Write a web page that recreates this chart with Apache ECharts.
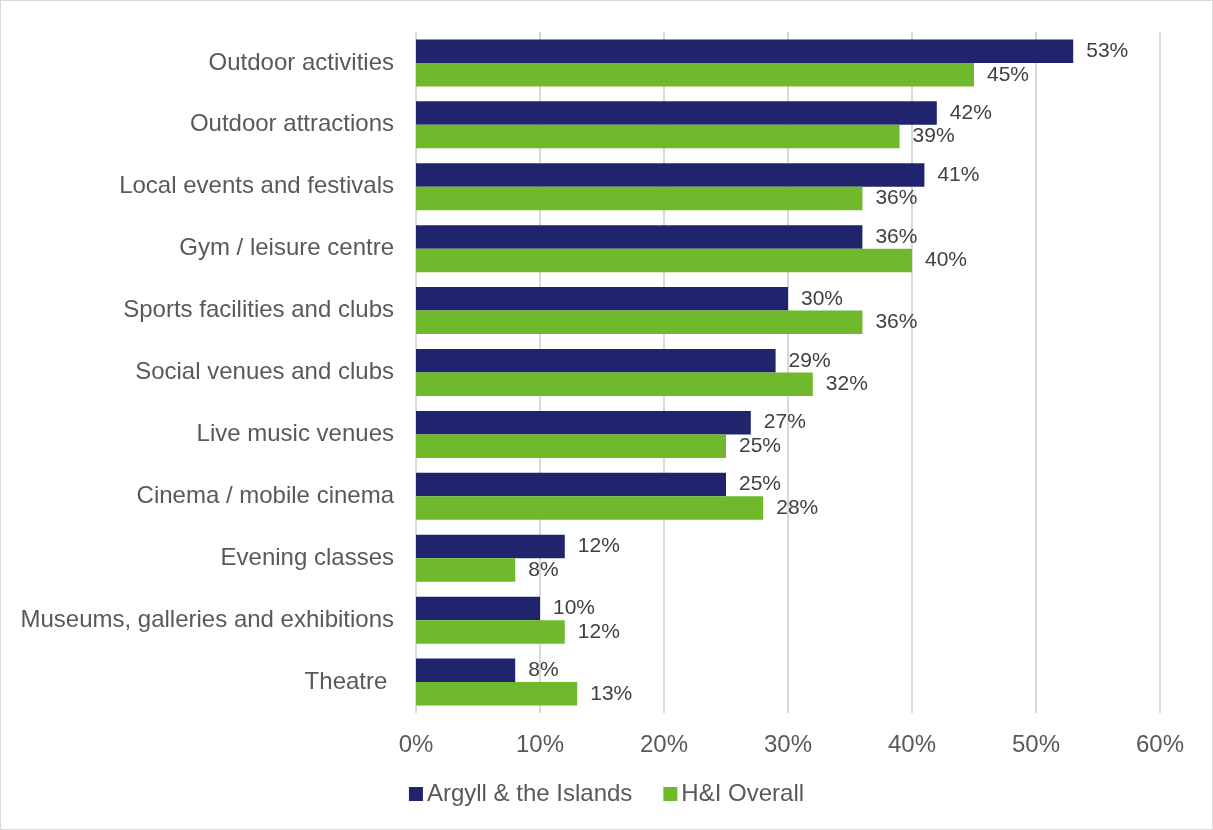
<!DOCTYPE html>
<html>
<head>
<meta charset="utf-8">
<script src="https://cdn.jsdelivr.net/npm/echarts@6/dist/echarts.min.js"></script>
<style>
  html, body { margin: 0; padding: 0; background: #fff; }
  #chart { width: 1211px; height: 828px; border: 1px solid #d9d9d9; }
</style>
</head>
<body>
<div id="chart"></div>
<script>
// Activities, top to bottom
const categories = [
  'Outdoor activities',
  'Outdoor attractions',
  'Local events and festivals',
  'Gym / leisure centre',
  'Sports facilities and clubs',
  'Social venues and clubs',
  'Live music venues',
  'Cinema / mobile cinema',
  'Evening classes',
  'Museums, galleries and exhibitions',
  'Theatre '
];
const argyllValues = [53, 42, 41, 36, 30, 29, 27, 25, 12, 10, 8];
const hiOverallValues = [45, 39, 36, 40, 36, 32, 25, 28, 8, 12, 13];
const seriesNames = ['Argyll & the Islands', 'H&I Overall'];
const xTicks = [0, 10, 20, 30, 40, 50, 60];

const FONT = '"Liberation Sans", Arial, sans-serif';
const AXIS_TEXT = '#595959';
const LABEL_TEXT = '#404040';

const chart = echarts.init(document.getElementById('chart'), null, { renderer: 'canvas' });

const labelStyle = {
  show: true,
  position: 'right',
  distance: 13,
  formatter: p => p.value + '%',
  color: LABEL_TEXT,
  fontFamily: FONT,
  fontSize: 21
};

chart.setOption({
  animation: false,
  textStyle: { fontFamily: FONT },
  grid: { left: 415, right: 52, top: 31, bottom: 116, containLabel: false },
  legend: {
    top: 776,
    left: 'center',
    itemWidth: 14,
    itemHeight: 14,
    itemGap: 31,
    icon: 'rect',
    textStyle: { color: AXIS_TEXT, fontSize: 24, fontFamily: FONT, padding: [0, 0, 0, -1] },
    data: seriesNames
  },
  xAxis: {
    type: 'value',
    min: xTicks[0],
    max: xTicks[xTicks.length - 1],
    interval: 10,
    axisLine: { show: false },
    axisTick: { show: false },
    axisLabel: {
      formatter: v => v + '%',
      color: AXIS_TEXT,
      fontSize: 24,
      fontFamily: FONT,
      margin: 20
    },
    splitLine: { show: true, lineStyle: { color: '#d9d9d9', width: 2 } }
  },
  yAxis: {
    type: 'category',
    inverse: true,
    data: categories,
    axisLine: { show: false },
    axisTick: { show: false },
    axisLabel: {
      color: AXIS_TEXT,
      fontSize: 24,
      fontFamily: FONT,
      margin: 22
    }
  },
  series: [
    {
      name: seriesNames[0],
      type: 'bar',
      data: argyllValues,
      barWidth: 23.5,
      barGap: '0%',
      itemStyle: { color: '#1f246d' },
      label: labelStyle
    },
    {
      name: seriesNames[1],
      type: 'bar',
      data: hiOverallValues,
      barWidth: 23.5,
      barGap: '0%',
      itemStyle: { color: '#70b82c' },
      label: labelStyle
    }
  ]
});
</script>
</body>
</html>
